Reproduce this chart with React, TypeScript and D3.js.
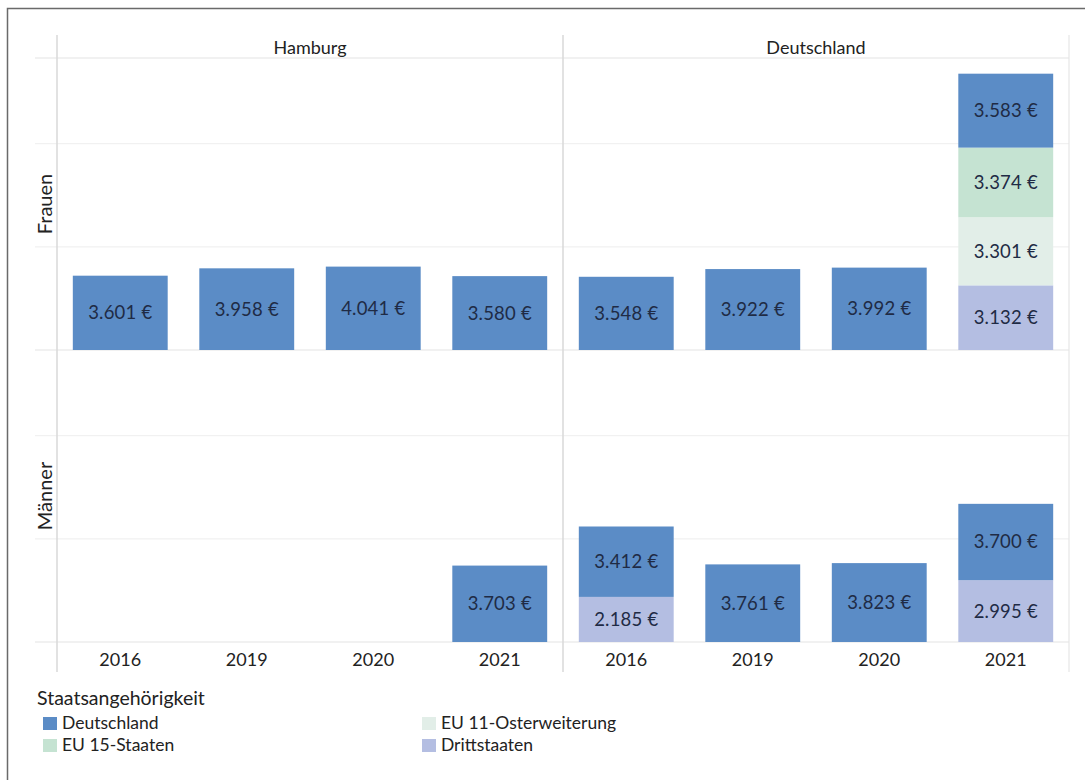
import React from "react";
import * as d3 from "d3";

const years = ["2016", "2019", "2020", "2021"];
const regions = ["Hamburg", "Deutschland"];
const genders = ["Frauen", "Männer"];
// stack order bottom → top
const groups = ["Drittstaaten", "EU 11-Osterweiterung", "EU 15-Staaten", "Deutschland"];
const legendOrder = ["Deutschland", "EU 11-Osterweiterung", "EU 15-Staaten", "Drittstaaten"];
const legendTitle = "Staatsangehörigkeit";

// values per year (2016, 2019, 2020, 2021); null = no data
const frauenHamburgDeutschland = [3601, 3958, 4041, 3580];
const frauenDeutschlandDeutschland = [3548, 3922, 3992, 3583];
const frauenDeutschlandEU15 = [null, null, null, 3374];
const frauenDeutschlandEU11 = [null, null, null, 3301];
const frauenDeutschlandDritt = [null, null, null, 3132];
const maennerHamburgDeutschland = [null, null, null, 3703];
const maennerDeutschlandDeutschland = [3412, 3761, 3823, 3700];
const maennerDeutschlandDritt = [2185, null, null, 2995];

const gridTicks = [5000, 10000];
const yMax = 14150;

const colors: Record<string, string> = {
  Deutschland: "#5b8cc6",
  "EU 15-Staaten": "#c5e3d2",
  "EU 11-Osterweiterung": "#e2eee8",
  Drittstaaten: "#b4bee2",
};

const empty = [null, null, null, null];
const seriesFor = (g: string, r: string): Record<string, (number | null)[]> => {
  if (g === "Frauen" && r === "Hamburg")
    return { Deutschland: frauenHamburgDeutschland, "EU 15-Staaten": empty, "EU 11-Osterweiterung": empty, Drittstaaten: empty };
  if (g === "Frauen")
    return { Deutschland: frauenDeutschlandDeutschland, "EU 15-Staaten": frauenDeutschlandEU15, "EU 11-Osterweiterung": frauenDeutschlandEU11, Drittstaaten: frauenDeutschlandDritt };
  if (r === "Hamburg")
    return { Deutschland: maennerHamburgDeutschland, "EU 15-Staaten": empty, "EU 11-Osterweiterung": empty, Drittstaaten: empty };
  return { Deutschland: maennerDeutschlandDeutschland, "EU 15-Staaten": empty, "EU 11-Osterweiterung": empty, Drittstaaten: maennerDeutschlandDritt };
};

const de = d3.formatLocale({ decimal: ",", thousands: ".", grouping: [3], currency: ["", " €"] });
const fmt = (v: number) => de.format(",d")(v) + " €";

const FONT = "Lato, 'Open Sans', sans-serif";

export default function App() {
  const W = 1085, H = 780;
  const left = 57, mid = 563, right = 1069;
  const headerTop = 35, headerLine = 58, rowH = 292, axisBottom = 672;
  const lineLeft = 35;

  const colX = d3.scaleBand<string>().domain(regions).range([left, right]);
  const rowY = d3.scaleBand<string>().domain(genders).range([headerLine, headerLine + 2 * rowH]);

  const gridColor = "#f1f1f1";
  const lineColor = "#e3e3e3";

  return (
    <svg width={W} height={H} style={{ position: "absolute", left: 0, top: 0, background: "#fff" }} fontFamily={FONT}>
      <rect x={0} y={0} width={W} height={H} fill="#fff" />
      <rect x={7.5} y={8.5} width={W + 10} height={H + 10} fill="none" stroke="#6a6a6a" strokeWidth={1.5} />

      {/* horizontal structure lines */}
      {genders.map((g) => {
        const y0 = rowY(g)!;
        const y = d3.scaleLinear().domain([0, yMax]).range([y0 + rowH, y0]);
        return (
          <g key={"grid" + g}>
            {gridTicks.map((t) => (
              <line key={t} x1={lineLeft} x2={right} y1={y(t)} y2={y(t)} stroke={gridColor} strokeWidth={1.2} />
            ))}
            <line x1={lineLeft} x2={right} y1={y(0)} y2={y(0)} stroke={lineColor} strokeWidth={1.2} />
          </g>
        );
      })}
      <line x1={lineLeft} x2={right} y1={headerLine} y2={headerLine} stroke={lineColor} strokeWidth={1.2} />

      {/* vertical lines */}
      {[left, mid].map((x) => (
        <line key={x} x1={x} x2={x} y1={headerTop} y2={axisBottom} stroke="#d9d9d9" strokeWidth={1.5} />
      ))}
      <line x1={right} x2={right} y1={headerTop} y2={axisBottom} stroke="#e6e6e6" strokeWidth={1.2} />

      {/* column headers */}
      {regions.map((r) => (
        <text key={r} x={colX(r)! + colX.bandwidth() / 2} y={54} textAnchor="middle" fontSize={18} fill="#222">
          {r}
        </text>
      ))}

      {/* row labels */}
      {genders.map((g) => (
        <text
          key={g}
          transform={`translate(${52},${rowY(g)! + rowH / 2}) rotate(-90)`}
          textAnchor="middle"
          fontSize={20}
          fill="#222"
        >
          {g}
        </text>
      ))}

      {/* bars */}
      {genders.map((g) =>
        regions.map((r) => {
          const y0 = rowY(g)!;
          const y = d3.scaleLinear().domain([0, yMax]).range([y0 + rowH, y0]);
          const x = d3
            .scaleBand<string>()
            .domain(years)
            .range([colX(r)!, colX(r)! + colX.bandwidth()])
            .paddingInner(0.25)
            .paddingOuter(0.125);
          const s = seriesFor(g, r);
          const table = years.map((yr, i) => {
            const row: Record<string, any> = { year: yr };
            groups.forEach((k) => (row[k] = s[k][i] ?? 0));
            return row;
          });
          const stacked = d3.stack<any>().keys(groups)(table);
          return (
            <g key={g + r}>
              {stacked.map((layer) =>
                layer.map((d, i) => {
                  const v = d[1] - d[0];
                  if (!v) return null;
                  const yTop = y(d[1]);
                  const yBot = y(d[0]);
                  const cx = x(years[i])! + x.bandwidth() / 2;
                  return (
                    <g key={layer.key + i}>
                      <rect x={x(years[i])} y={yTop} width={x.bandwidth()} height={yBot - yTop} fill={colors[layer.key]} />
                      <text
                        x={cx}
                        y={(yTop + yBot) / 2}
                        dy="0.35em"
                        textAnchor="middle"
                        fontSize={18.5}
                        fill="#1f2b45"
                        letterSpacing={0.2}
                      >
                        {fmt(v)}
                      </text>
                    </g>
                  );
                })
              )}
            </g>
          );
        })
      )}

      {/* year axis labels */}
      {regions.map((r) => {
        const x = d3
          .scaleBand<string>()
          .domain(years)
          .range([colX(r)!, colX(r)! + colX.bandwidth()])
          .paddingInner(0.25)
          .paddingOuter(0.125);
        return years.map((yr) => (
          <text key={r + yr} x={x(yr)! + x.bandwidth() / 2} y={666} textAnchor="middle" fontSize={18} fill="#222">
            {yr}
          </text>
        ));
      })}

      {/* legend */}
      <text x={37} y={705} fontSize={19.5} fill="#222">
        {legendTitle}
      </text>
      {legendOrder.map((k, i) => {
        const col = i % 2;
        const row = Math.floor(i / 2);
        const sx = col === 0 ? 43 : 422;
        const sy = 717 + row * 22;
        return (
          <g key={k}>
            <rect x={sx} y={sy} width={14} height={13} fill={colors[k]} />
            <text x={sx + 19} y={sy + 12} fontSize={17.5} fill="#222">
              {k}
            </text>
          </g>
        );
      })}
    </svg>
  );
}
